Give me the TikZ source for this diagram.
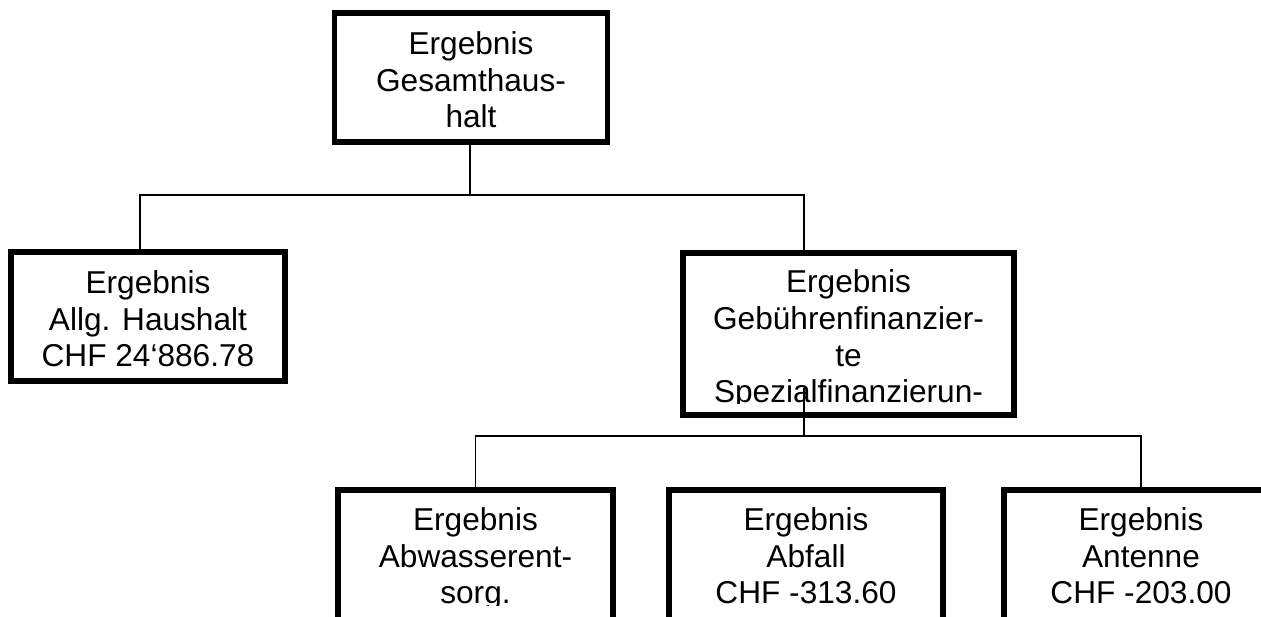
\documentclass[tikz,border=0pt]{standalone}
\usepackage{fontspec}
\setmainfont{Liberation Sans}
\usetikzlibrary{positioning,calc}

\tikzset{
  ergbox/.style={draw,line width=2.9pt,inner sep=0pt,minimum width=5.48cm,minimum height=2.58cm},
  ergtext/.style={align=center,inner sep=0pt,anchor=base,font=\fontsize{18}{21}\selectfont},
  conn/.style={line width=0.75pt}
}

\begin{document}
\begin{tikzpicture}[x=0.02cm,y=-0.02cm]
\useasboundingbox (0,0) rectangle (1261,617);
\node[ergbox,minimum width=5.46cm] (root) at (471,77.5) {};
\node[ergtext] (t-root) at (471,128) {Ergebnis\\Gesamthaus-\\halt};
\node[ergbox] (allg) at (148,316.5) {};
\node[ergtext] (t-allg) at (148,367) {Ergebnis\\Allg. Haushalt\\CHF 24‘886.78};
\node[ergbox,minimum width=6.62cm,minimum height=3.24cm] (gebuehr) at (848.5,334) {};
\begin{scope}
\clip (686,256) rectangle (1011,404);
\node[ergtext] (t-gebuehr) at (848.5,403) {Ergebnis\\Gebührenfinanzier-\\te\\Spezialfinanzierun-};
\end{scope}
\node[ergbox,minimum width=5.5cm,minimum height=3.24cm] (abw) at (475.5,571) {};
\begin{scope}
\clip (341,493) rectangle (610,606);
\node[ergtext] (t-abw) at (475.5,604) {Ergebnis\\Abwasserent-\\sorg.};
\end{scope}
\node[ergbox,minimum height=3.24cm] (abfall) at (806,571) {};
\node[ergtext] (t-abfall) at (806,604) {Ergebnis\\Abfall\\CHF -313.60};
\node[ergbox,minimum height=3.24cm] (antenne) at (1141,571) {};
\node[ergtext] (t-antenne) at (1141,604) {Ergebnis\\Antenne\\CHF -203.00};

\coordinate (j-top) at (470,195);
\coordinate (j-left) at (140,195);
\coordinate (j-right) at (804,195);
\draw[conn] (root.south -| j-top) -- (j-top);
\draw[conn] (allg.north -| j-left) -- (j-left) -- (j-right) -- (gebuehr.north -| j-right);
\coordinate (g-out) at (804,388);
\coordinate (k-mid) at (804,436);
\draw[conn] (g-out) -- (k-mid);
\draw[conn] (abw.north) -- (abw.north |- k-mid) -- (antenne.north |- k-mid) -- (antenne.north);
\end{tikzpicture}
\end{document}
